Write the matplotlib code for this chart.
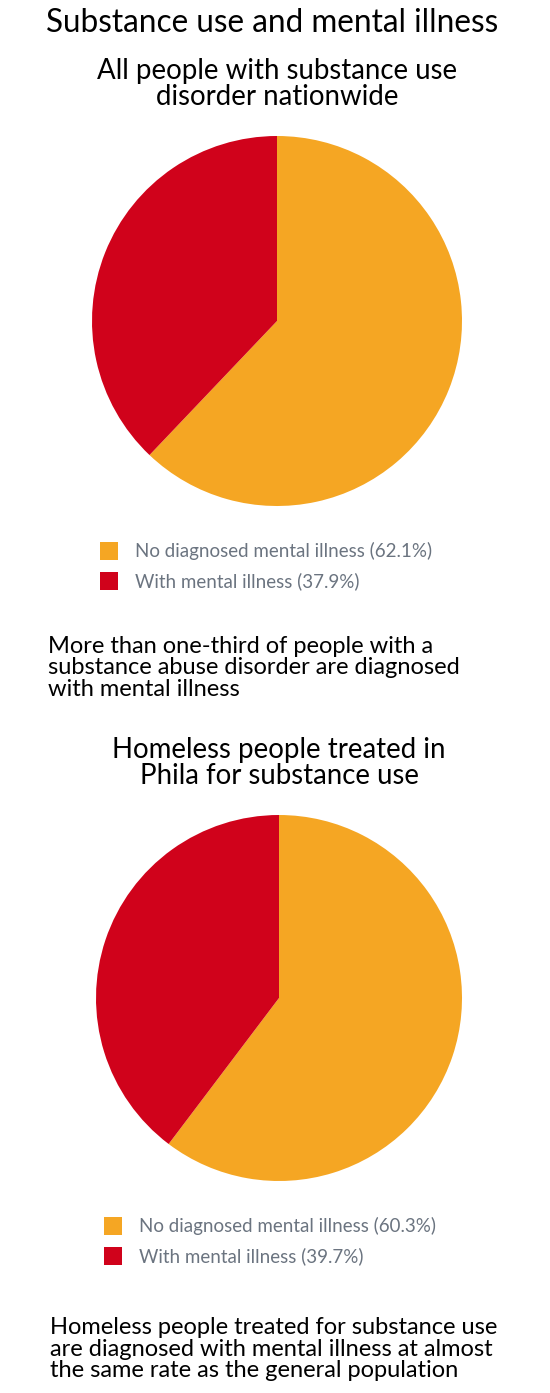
import matplotlib.pyplot as plt
from matplotlib.patches import Rectangle

plt.rcParams['font.family'] = ['Lato', 'DejaVu Sans']

W, H = 550, 1393

title = 'Substance use and mental illness'
labels = ['No diagnosed mental illness', 'With mental illness']
colors = ['#F5A623', '#D0021B']

nation_title = 'All people with substance use\ndisorder nationwide'
nation_values = [62.1, 37.9]
nation_note = ('More than one-third of people with a\n'
               'substance abuse disorder are diagnosed\n'
               'with mental illness')

phila_title = 'Homeless people treated in\nPhila for substance use'
phila_values = [60.3, 39.7]
phila_note = ('Homeless people treated for substance use\n'
              'are diagnosed with mental illness at almost\n'
              'the same rate as the general population')


def fx(x):
    return x / W


def fy(y):
    return 1 - y / H


def draw_pie(fig, values, cx, cy, r):
    ax = fig.add_axes([fx(cx - r), fy(cy + r), 2 * r / W, 2 * r / H])
    ax.pie(values, colors=colors, startangle=90, counterclock=False,
           wedgeprops=dict(linewidth=0))
    ax.set_xlim(-1, 1)
    ax.set_ylim(-1, 1)
    ax.set_aspect('auto')
    ax.axis('off')


def draw_legend(fig, values, x, y):
    for i, (lab, v) in enumerate(zip(labels, values)):
        yy = y + i * 30
        fig.patches.append(Rectangle((fx(x), fy(yy + 9)), 18 / W, 18 / H,
                                     transform=fig.transFigure,
                                     facecolor=colors[i], edgecolor='none'))
        fig.text(fx(x + 35), fy(yy), '%s (%.1f%%)' % (lab, v),
                 fontsize=13.5, color='#6b7480', va='center', ha='left')


fig = plt.figure(figsize=(W / 100, H / 100), dpi=100)

fig.text(fx(272), fy(23), title, fontsize=22.7, ha='center', va='center')

fig.text(fx(277), fy(84), nation_title, fontsize=19.9, ha='center', va='center',
         linespacing=1.02)
draw_pie(fig, nation_values, 277, 321, 185)
draw_legend(fig, nation_values, 100, 551)
fig.text(fx(48), fy(668), nation_note, fontsize=17, ha='left', va='center',
         linespacing=1.05)

fig.text(fx(279), fy(763), phila_title, fontsize=19.9, ha='center', va='center',
         linespacing=1.02)
draw_pie(fig, phila_values, 279, 998, 183)
draw_legend(fig, phila_values, 104, 1226)
fig.text(fx(50), fy(1349), phila_note, fontsize=17, ha='left', va='center',
         linespacing=1.05)

fig.savefig('out.png', dpi=100)
